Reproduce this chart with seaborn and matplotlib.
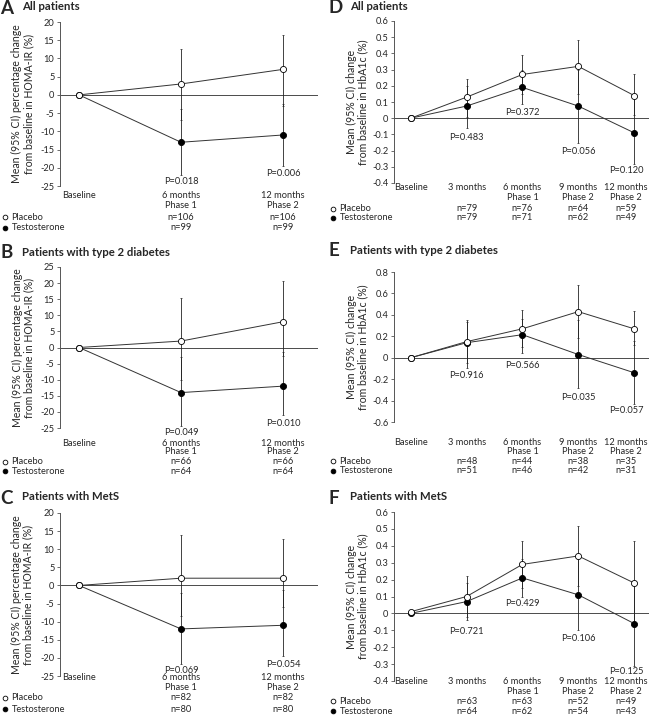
import matplotlib
matplotlib.use('Agg')
import matplotlib.pyplot as plt
import seaborn as sns
import pandas as pd
from matplotlib.lines import Line2D

W, H = 652, 723

# time points (months) and their labels
homa_months = [0, 6, 12]
homa_names = [['Baseline'], ['6 months', 'Phase 1'], ['12 months', 'Phase 2']]
hba_months = [0, 3, 6, 9, 12]
hba_names = [['Baseline'], ['3 months'], ['6 months', 'Phase 1'],
             ['9 months', 'Phase 2'], ['12 months', 'Phase 2']]

# A - HOMA-IR, all patients
a_plac = [0, 3, 7]
a_plac_lo = [0, -7, -3]
a_plac_hi = [0, 12.7, 16.3]
a_test = [0, -13, -11]
a_test_lo = [0, -22, -19.5]
a_test_hi = [0, -4, -2.5]
a_p = ['P=0.018', 'P=0.006']
a_p_y = [-23.8, -21.6]
a_n_plac = [106, 106]
a_n_test = [99, 99]

# B - HOMA-IR, type 2 diabetes
b_plac = [0, 2, 8]
b_plac_lo = [0, -10, -2.5]
b_plac_hi = [0, 15.5, 20.5]
b_test = [0, -14, -12]
b_test_lo = [0, -24.4, -21]
b_test_hi = [0, -3, -1.5]
b_p = ['P=0.049', 'P=0.010']
b_p_y = [-26.3, -23.7]
b_n_plac = [66, 66]
b_n_test = [64, 64]

# C - HOMA-IR, MetS
c_plac = [0, 2, 2]
c_plac_lo = [0, -8.5, -6]
c_plac_hi = [0, 13.8, 12.9]
c_test = [0, -12, -11]
c_test_lo = [0, -21.8, -19.6]
c_test_hi = [0, -2, -1.2]
c_p = ['P=0.069', 'P=0.054']
c_p_y = [-23.4, -21.8]
c_n_plac = [82, 82]
c_n_test = [80, 80]

# D - HbA1c, all patients
d_plac = [0, 0.13, 0.27, 0.32, 0.14]
d_plac_lo = [0, 0.01, 0.15, 0.15, 0.02]
d_plac_hi = [0, 0.245, 0.39, 0.485, 0.27]
d_test = [0, 0.075, 0.19, 0.075, -0.09]
d_test_lo = [0, -0.06, 0.085, -0.15, -0.28]
d_test_hi = [0, 0.2, 0.3, 0.3, 0.13]
d_p = ['P=0.483', 'P=0.372', 'P=0.056', 'P=0.120']
d_p_y = [-0.12, 0.037, -0.205, -0.325]
d_n_plac = [79, 76, 64, 59]
d_n_test = [79, 71, 62, 49]

# E - HbA1c, type 2 diabetes
e_plac = [0, 0.15, 0.27, 0.43, 0.27]
e_plac_lo = [0, -0.05, 0.1, 0.18, 0.115]
e_plac_hi = [0, 0.35, 0.45, 0.68, 0.44]
e_test = [0, 0.14, 0.215, 0.03, -0.14]
e_test_lo = [0, -0.1, 0.045, -0.28, -0.43]
e_test_hi = [0, 0.33, 0.36, 0.35, 0.16]
e_p = ['P=0.916', 'P=0.566', 'P=0.035', 'P=0.057']
e_p_y = [-0.17, -0.07, -0.37, -0.49]
e_n_plac = [48, 44, 38, 35]
e_n_test = [51, 46, 42, 31]

# F - HbA1c, MetS
f_plac = [0.01, 0.10, 0.29, 0.34, 0.18]
f_plac_lo = [0.01, -0.02, 0.15, 0.16, -0.07]
f_plac_hi = [0.01, 0.22, 0.43, 0.52, 0.43]
f_test = [0, 0.07, 0.21, 0.11, -0.06]
f_test_lo = [0, -0.04, 0.10, -0.10, -0.31]
f_test_hi = [0, 0.18, 0.32, 0.32, 0.18]
f_p = ['P=0.721', 'P=0.429', 'P=0.106', 'P=0.125']
f_p_y = [-0.11, 0.058, -0.15, -0.345]
f_n_plac = [63, 63, 52, 49]
f_n_test = [64, 62, 54, 43]

homa_label = 'Mean (95% CI) percentage change\nfrom baseline in HOMA-IR (%)'
hba_label = 'Mean (95% CI) change\nfrom baseline in HbA1c (%)'

sns.set_theme(style='ticks')
plt.rcParams['font.family'] = ['Lato', 'DejaVu Sans']
plt.rcParams['axes.unicode_minus'] = False

fig = plt.figure(figsize=(W / 100, H / 100), dpi=100)
FS = 6.7


def ftext(x, y, s, **kw):
    kw.setdefault('va', 'center')
    kw.setdefault('fontsize', FS)
    fig.text(x / W, 1 - y / H, s, **kw)


def fmark(x, y, face):
    fig.add_artist(Line2D([x / W], [1 - y / H], marker='o', markersize=3.4,
                          markerfacecolor=face, markeredgecolor='black',
                          markeredgewidth=0.6, linestyle='none',
                          transform=fig.transFigure))


def panel(rect, left, letter, title, months, names, plac, test, pv, pv_y,
          n_plac, n_test, yticks, ylabel, xlim, rows, title_y, ylab_x):
    l, t, r, b = rect
    ax = fig.add_axes([l / W, 1 - b / H, (r - l) / W, (b - t) / H])
    ax.axhline(0, color='#4a4a4a', lw=0.7, zorder=1)

    for (mean, lo, hi), face in [(test, 'black'), (plac, 'white')]:
        df = pd.DataFrame({'month': months, 'mean': mean})
        yerr = [[m - a for m, a in zip(mean, lo)], [c - m for m, c in zip(mean, hi)]]
        ax.errorbar(months, mean, yerr=yerr, fmt='none', ecolor='#222222',
                    elinewidth=0.6, capsize=1.0, capthick=0.5, zorder=2)
        sns.lineplot(data=df, x='month', y='mean', ax=ax, color='#333333',
                     linewidth=0.7, marker='o', markersize=4.4,
                     markerfacecolor=face, markeredgecolor='black',
                     markeredgewidth=0.6, zorder=3)

    # label columns: centred on the time point, but kept inside the panel
    span = xlim[1] - xlim[0]
    x_px = [min(l + (m - xlim[0]) / span * (r - l), r - 23) for m in months]
    x_dat = [xlim[0] + (xp - l) / (r - l) * span for xp in x_px]

    for xd, s, y in zip(x_dat[1:], pv, pv_y):
        ax.text(xd, y, s, ha='center', va='center', fontsize=FS, clip_on=False)

    ax.set_xlim(*xlim)
    ax.set_ylim(yticks[0], yticks[-1])
    ax.set_yticks(yticks)
    ax.set_yticklabels(['0' if abs(v) < 1e-9 else ('%g' % v) for v in yticks])
    ax.set_xticks([])
    ax.set_xlabel('')
    ax.set_ylabel('')
    for s in ['top', 'right', 'bottom']:
        ax.spines[s].set_visible(False)
    ax.spines['left'].set_color('#555555')
    ax.spines['left'].set_linewidth(0.7)
    ax.tick_params(axis='y', length=2.5, width=0.6, color='#555555',
                   labelsize=FS, pad=1.5)

    # x labels with phase and n rows
    for i, (xp, nm) in enumerate(zip(x_px, names)):
        for j, s in enumerate(nm):
            ftext(xp, rows[j], s, ha='center')
        if i > 0:
            ftext(xp, rows[2], 'n=%d' % n_plac[i - 1], ha='center')
            ftext(xp, rows[3], 'n=%d' % n_test[i - 1], ha='center')

    # legend
    fmark(left + 4.5, rows[2], 'white')
    fmark(left + 4.5, rows[3], 'black')
    ftext(left + 11.5, rows[2], 'Placebo')
    ftext(left + 11.5, rows[3], 'Testosterone')

    # panel titles
    ftext(left + 0.5, title_y + 1, letter, fontsize=13.5, fontweight='bold')
    ftext(left + 22.5, title_y, title, fontsize=8.2, fontweight='bold')

    ftext(ylab_x, (t + b) / 2, ylabel, rotation=90, ha='center',
          multialignment='center', fontsize=7.6, linespacing=1.1)
    return ax


homa_ticks20 = list(range(-25, 21, 5))
homa_ticks25 = list(range(-25, 26, 5))
hba_ticks = [round(-0.4 + 0.1 * i, 1) for i in range(11)]
hba_ticks_e = [round(-0.6 + 0.2 * i, 1) for i in range(8)]

homa_xlim = (-1.12, 14.06)
hba_xlim = (-0.9, 12.8)

panel((60, 22, 318, 186), 0, 'A', 'All patients', homa_months, homa_names,
      (a_plac, a_plac_lo, a_plac_hi), (a_test, a_test_lo, a_test_hi), a_p, a_p_y,
      a_n_plac, a_n_test, homa_ticks20, homa_label, homa_xlim,
      [195, 206, 217, 228], 7, 22.5)
panel((60, 267, 318, 428), 0, 'B', 'Patients with type 2 diabetes', homa_months, homa_names,
      (b_plac, b_plac_lo, b_plac_hi), (b_test, b_test_lo, b_test_hi), b_p, b_p_y,
      b_n_plac, b_n_test, homa_ticks25, homa_label, homa_xlim,
      [443, 452, 462, 471], 252, 23)
panel((60, 513, 318, 676), 0, 'C', 'Patients with MetS', homa_months, homa_names,
      (c_plac, c_plac_lo, c_plac_hi), (c_test, c_test_lo, c_test_hi), c_p, c_p_y,
      c_n_plac, c_n_test, homa_ticks20, homa_label, homa_xlim,
      [678, 687.5, 698, 709], 497, 22)
panel((394, 21, 649, 183), 328, 'D', 'All patients', hba_months, hba_names,
      (d_plac, d_plac_lo, d_plac_hi), (d_test, d_test_lo, d_test_hi), d_p, d_p_y,
      d_n_plac, d_n_test, hba_ticks, hba_label, hba_xlim,
      [188, 198, 208.5, 218], 6.5, 357)
panel((394, 272, 649, 422), 328, 'E', 'Patients with type 2 diabetes', hba_months, hba_names,
      (e_plac, e_plac_lo, e_plac_hi), (e_test, e_test_lo, e_test_hi), e_p, e_p_y,
      e_n_plac, e_n_test, hba_ticks_e, hba_label, hba_xlim,
      [442, 451.5, 461.5, 470.5], 250, 357)
panel((394, 512, 649, 681), 328, 'F', 'Patients with MetS', hba_months, hba_names,
      (f_plac, f_plac_lo, f_plac_hi), (f_test, f_test_lo, f_test_hi), f_p, f_p_y,
      f_n_plac, f_n_test, hba_ticks, hba_label, hba_xlim,
      [681, 691, 701, 711], 497, 357)

fig.savefig('out.png', dpi=100)
